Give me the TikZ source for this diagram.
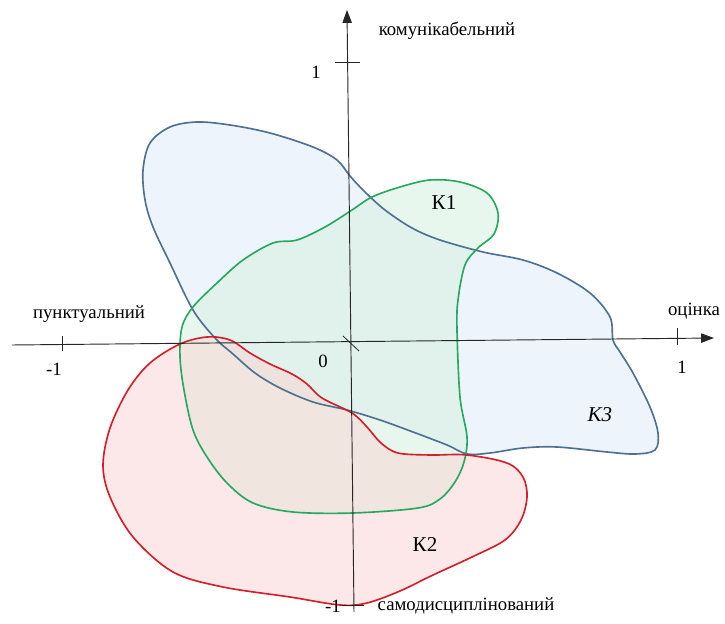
\documentclass[tikz,border=0pt]{standalone}
\usepackage{fontspec}
\setmainfont{Liberation Serif}
\usepackage{xcolor}
\usetikzlibrary{arrows.meta}

\definecolor{kthreeline}{RGB}{78,112,145}
\definecolor{kthreefill}{RGB}{222,234,247}
\definecolor{koneline}{RGB}{38,168,96}
\definecolor{konefill}{RGB}{210,240,220}
\definecolor{ktwoline}{RGB}{212,30,42}
\definecolor{ktwofill}{RGB}{250,210,210}

\begin{document}
\begin{tikzpicture}[
    x=0.03cm, y=-0.03cm,
    axis/.style={-{Triangle[length=11pt,width=8pt]}, line width=0.8pt, black!85},
    tick/.style={line width=0.7pt, black!85},
    lbl/.style={font=\fontsize{16}{18}\selectfont, inner sep=1pt},
    klbl/.style={font=\fontsize{18}{20}\selectfont, inner sep=1pt},
    blobfill/.style={fill opacity=0.5},
    blobline/.style={line width=1.4pt}
]
\useasboundingbox (0,0) rectangle (725,624);

% cluster outlines
\path[save path=\kthreepath] plot[smooth cycle, tension=0.55] coordinates {
  (143,170) (150,143) (170,127) (197,122) (230,125) (270,133) (313,147) (337,160)
  (350,176) (365,192) (385,210) (412,228) (440,240) (483,252) (523,260) (557,273)
  (590,293) (610,317) (613,340) (620,352) (633,373) (650,407) (658,433) (655,450)
  (635,454) (607,452) (557,447) (523,448) (490,453) (467,454) (447,445) (413,432)
  (380,420) (347,410) (313,402) (280,388) (255,373) (233,354) (215,338) (193,310)
  (170,263) (153,227) (145,200)};
\path[save path=\konepath] plot[smooth cycle, tension=0.55] coordinates {
  (352,210) (372,197) (400,187) (430,180) (460,182) (487,193) (498,213) (494,234)
  (478,248) (465,265) (458,300) (457,330) (460,397) (467,437) (464,462) (455,482)
  (440,499) (418,508) (353,513) (293,512) (253,503) (227,483) (207,457) (193,430)
  (184,390) (180,357) (182,327) (193,307) (217,283) (243,260) (273,243) (297,240)
  (325,227)};
\path[save path=\ktwopath] plot[smooth cycle, tension=0.55] coordinates {
  (180,344) (207,337) (230,340) (250,353) (270,364) (292,374) (307,384) (322,398)
  (352,413) (367,427) (381,443) (398,453) (430,455) (467,455) (507,463) (523,477)
  (527,497) (521,520) (505,540) (472,557) (433,575) (400,591) (367,603) (340,605)
  (290,597) (223,587) (173,572) (133,537) (110,497) (103,465) (110,428) (128,390)
  (150,363)};

% fills first, then lines
\fill[blobfill, kthreefill, use path=\kthreepath];
\fill[blobfill, konefill, use path=\konepath];
\fill[blobfill, ktwofill, use path=\ktwopath];
\draw[blobline, kthreeline, use path=\kthreepath];
\draw[blobline, koneline, use path=\konepath];
\draw[blobline, ktwoline, use path=\ktwopath];

% axes
\coordinate (xstart) at (12,345);
\coordinate (xend) at (714,338);
\coordinate (ystart) at (354,612);
\coordinate (yend) at (347,10);
\draw[axis] (xstart) -- (xend);
\draw[axis] (ystart) -- (yend);

\draw[tick] (62,336) -- ++(0,15);
\draw[tick] (677,328) -- ++(0,17);
\draw[tick] (335,62) -- ++(25,0);
\draw[tick] (342,605) -- ++(22,0);
\draw[tick] (343,336) -- (359,351);

% labels
\node[lbl] (ytop) at (447,31) {комунікабельний};
\node[lbl] (yone) at (316,72) {1};
\node[lbl] (xleft) at (89,314) {пунктуальний};
\node[lbl] (xmone) at (54,369) {-1};
\node[lbl] (orig) at (323,361) {0};
\node[lbl] (xright) at (694,311) {оцінка};
\node[lbl] (xone) at (682,367) {1};
\node[lbl] (ybottom) at (466,606) {самодисциплінований};
\node[lbl] (ymone) at (333,606) {-1};

\node[klbl] (kone) at (444,203) {К1};
\node[klbl] (ktwo) at (425,545) {К2};
\node[klbl, font=\fontsize{18}{20}\selectfont\itshape] (kthree) at (600,415) {К3};

\end{tikzpicture}
\end{document}
